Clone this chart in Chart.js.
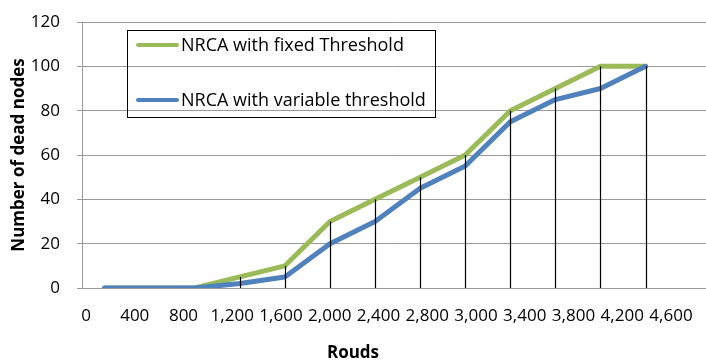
<!DOCTYPE html>
<html>
<head>
<meta charset="utf-8">
<script src="https://cdn.jsdelivr.net/npm/chart.js@4/dist/chart.umd.min.js"></script>
<style>
  html, body { margin: 0; padding: 0; background: #fff; }
  #wrap { width: 706px; height: 360px; }
</style>
</head>
<body>
<div id="wrap"><canvas id="c" width="706" height="360"></canvas></div>
<script>
// Rounds (category labels along the x axis)
const rounds = ['0', '400', '800', '1,200', '1,600', '2,000', '2,400', '2,800', '3,000', '3,400', '3,800', '4,200', '4,600'];
// Dead nodes per round for each scheme
const fixedThreshold    = [0, 0, 0, 5, 10, 30, 40, 50, 60, 80, 90, 100, 100];
const variableThreshold = [0, 0, 0, 2, 5, 20, 30, 45, 55, 75, 85, 90, 100];
// Y axis ticks
const yTicks = [0, 20, 40, 60, 80, 100, 120];

const FONT = "'Open Sans', 'DejaVu Sans', sans-serif";
const GRID = '#9a9a9a';

const toPoints = arr => arr.map((v, i) => ({ x: i, y: v }));

// Vertical drop lines from the axis up to the highest series at each round
const dropLines = {
  id: 'dropLines',
  afterDatasetsDraw(chart) {
    const { ctx, scales: { x, y } } = chart;
    const sets = chart.data.datasets;
    ctx.save();
    ctx.strokeStyle = '#000';
    ctx.lineWidth = 1.2;
    rounds.forEach((_, i) => {
      const top = Math.max(...sets.map(d => d.data[i].y));
      if (top <= 0) return;
      const px = Math.round(x.getPixelForValue(i)) + 0.5;
      ctx.beginPath();
      ctx.moveTo(px, y.getPixelForValue(0));
      ctx.lineTo(px, y.getPixelForValue(top));
      ctx.stroke();
    });
    ctx.restore();
  }
};

// Boxed legend placed inside the plot area
const boxLegend = {
  id: 'boxLegend',
  afterDraw(chart) {
    const { ctx, chartArea } = chart;
    const left = chartArea.left + 45, top = chartArea.top + 8;
    const w = 308, h = 87;
    ctx.save();
    ctx.strokeStyle = '#000';
    ctx.lineWidth = 1;
    ctx.strokeRect(left + 0.5, top + 0.5, w, h);
    ctx.font = '18px ' + FONT;
    ctx.textBaseline = 'middle';
    ctx.fillStyle = '#000';
    const rows = [top + 15, top + 70];
    chart.data.datasets.forEach((d, i) => {
      ctx.strokeStyle = d.borderColor;
      ctx.lineWidth = 4;
      ctx.lineCap = 'round';
      ctx.beginPath();
      ctx.moveTo(left + 11, rows[i]);
      ctx.lineTo(left + 50, rows[i]);
      ctx.stroke();
      ctx.fillText(d.label, left + 54, rows[i] + 1);
    });
    ctx.restore();
  }
};

new Chart(document.getElementById('c'), {
  type: 'line',
  data: {
    datasets: [
      {
        label: 'NRCA with fixed Threshold',
        data: toPoints(fixedThreshold),
        borderColor: '#9BBB59',
        borderWidth: 5,
        order: 2
      },
      {
        label: 'NRCA with variable threshold',
        data: toPoints(variableThreshold),
        borderColor: '#4F81BD',
        borderWidth: 5,
        order: 1
      }
    ]
  },
  options: {
    responsive: false,
    animation: false,
    layout: { padding: { top: 22, right: 0, bottom: 0, left: 0 } },
    elements: {
      point: { radius: 0, hoverRadius: 0 },
      line: { tension: 0, borderCapStyle: 'round', borderJoinStyle: 'round' }
    },
    plugins: {
      legend: { display: false },
      tooltip: { enabled: false },
      title: {
        display: true,
        position: 'bottom',
        text: 'Rouds',
        color: '#000',
        font: { family: FONT, size: 17, weight: 'bold', lineHeight: 0.8 },
        padding: { top: 0, bottom: 0 }
      }
    },
    scales: {
      // value axis for the series (no labels of its own)
      x: {
        type: 'linear',
        position: 'bottom',
        weight: 0,
        min: -0.5,
        max: 13.34,
        grid: { display: false },
        border: { display: true, color: GRID, width: 1 },
        ticks: { display: false },
        afterFit(scale) { scale.height = 0; }
      },
      // round labels along the bottom
      xl: {
        type: 'linear',
        position: 'bottom',
        weight: 1,
        min: -0.082,
        max: 12.718,
        grid: { display: false },
        border: { display: false },
        afterBuildTicks(scale) {
          scale.ticks = rounds.map((_, i) => ({ value: i }));
        },
        afterFit(scale) { scale.height = 58.4; },
        ticks: {
          autoSkip: false,
          maxRotation: 0,
          padding: 10,
          color: '#000',
          font: { family: FONT, size: 17 },
          callback: v => rounds[v] ?? ''
        }
      },
      y: {
        min: 0,
        max: 120,
        afterBuildTicks(scale) {
          scale.ticks = yTicks.map(v => ({ value: v }));
        },
        afterFit(scale) {
          scale.width = 82;
          scale.paddingTop = 0;
          scale.paddingBottom = 0;
        },
        grid: { color: GRID, lineWidth: 1, tickLength: 5, drawTicks: true },
        border: { display: true, color: GRID, width: 1 },
        ticks: {
          padding: 17,
          color: '#000',
          font: { family: FONT, size: 17 }
        },
        title: {
          display: true,
          text: 'Number of dead nodes',
          color: '#000',
          font: { family: FONT, size: 17, weight: 'bold' },
          padding: { top: 9, bottom: 0 }
        }
      }
    }
  },
  plugins: [dropLines, boxLegend]
});
</script>
</body>
</html>
